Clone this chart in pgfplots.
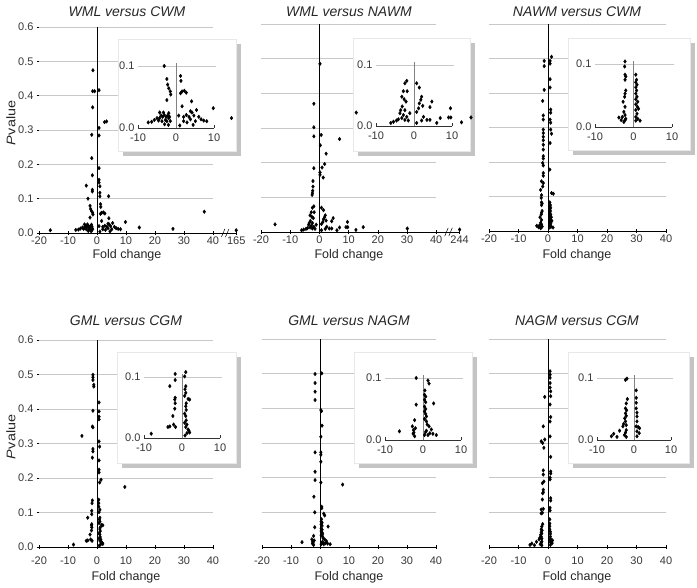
\documentclass[border=0pt]{standalone}
\usepackage{fontspec}
\setmainfont{Liberation Sans}
\usepackage{pgfplots}
\pgfplotsset{compat=1.18}
\usepackage{pgfplotstable}

\definecolor{gridc}{RGB}{200,200,200}
\definecolor{shadowc}{RGB}{196,196,196}
\definecolor{boxc}{RGB}{232,232,232}
\definecolor{labc}{RGB}{55,55,55}
\definecolor{vline}{RGB}{130,130,130}

\pgfplotstableread{
x y
-1.4 0.474
-1.5 0.413
-0.8 0.413
0.7 0.416
-1.5 0.366
0.7 0.306
0.7 0.284
-1.8 0.286
2.6 0.323
3.3 0.325
-1.8 0.218
0.7 0.189
-1.6 0.168
0.7 0.155
0.7 0.147
-3.7 0.138
-1.6 0.126
-1.6 0.121
1.0 0.136
1.0 0.117
1.0 0.107
4.0 0.107
26.2 0.012
37.0 0.062
-16.1 0.008
48 0.008
-3.1 0.100
1.2 0.084
1.3 0.076
-2.4 0.079
-2.2 0.070
-1.9 0.064
-1.5 0.059
-1.4 0.054
-2.4 0.045
1.6 0.059
2.2 0.060
2.7 0.057
1.2 0.056
4.1 0.043
9.8 0.032
14.6 0.016
1.6 0.035
0.7 0.020
2.0 0.018
2.7 0.021
3.4 0.018
3.8 0.027
4.2 0.025
5.4 0.029
4.7 0.020
6.0 0.018
6.6 0.014
7.3 0.012
8.1 0.011
3.8 0.014
2.0 0.011
2.9 0.009
5.1 0.011
-7.3 0.009
-6.4 0.010
-5.7 0.013
-5.0 0.016
-4.3 0.016
-3.9 0.020
-3.5 0.018
-3.1 0.021
-2.6 0.018
-2.2 0.020
-1.9 0.016
-1.7 0.018
-2.8 0.013
-4.6 0.012
-3.7 0.011
-2.4 0.011
-1.5 0.011
-4.3 0.025
-3.3 0.025
-1.9 0.024
-2.0 0.005
-3.0 0.006
1.0 0.004
4.5 0.005
}\dA

\pgfplotstableread{
x y
0.2 0.485
-1.9 0.370
-1.9 0.302
-1.9 0.276
0.6 0.280
0.3 0.250
6.9 0.268
2.3 0.226
1.8 0.196
0.9 0.186
-1.9 0.184
0.2 0.172
0.2 0.165
1.3 0.157
-2.2 0.147
-2.2 0.131
-2.3 0.119
-2.4 0.112
-2.5 0.107
30.1 0.010
48 0.007
-1.9 0.074
-2.4 0.070
-2.8 0.057
-1.8 0.057
-3.2 0.048
-2.6 0.044
-2.1 0.040
-3.1 0.032
-2.4 0.026
-3.7 0.021
-2.8 0.018
-1.9 0.015
-3.2 0.013
-4.1 0.011
-5.4 0.007
-6.1 0.005
-4.6 0.009
-2.4 0.010
-1.5 0.009
-1.1 0.021
-3.5 0.026
0.7 0.070
1.4 0.063
2.0 0.048
1.8 0.043
1.4 0.037
1.2 0.029
0.7 0.023
2.3 0.033
4.7 0.040
4.2 0.031
2.5 0.015
2.0 0.009
3.4 0.010
4.2 0.010
6.0 0.005
6.9 0.013
9.1 0.014
9.7 0.014
9.6 0.029
-15.2 0.022
15.0 0.014
12.5 0.006
0.7 0.005
}\dB

\pgfplotstableread{
x y
1.2 0.505
-1.3 0.493
-1.3 0.478
0.7 0.493
0.7 0.485
0.7 0.440
0.7 0.416
-1.3 0.409
-1.8 0.377
0.9 0.352
0.9 0.343
0.7 0.323
0.9 0.314
0.9 0.294
1.2 0.282
0.7 0.255
-1.6 0.335
-1.6 0.323
-1.6 0.294
-1.6 0.284
-1.6 0.273
-1.6 0.263
-1.6 0.250
-1.6 0.236
-1.6 0.217
-1.6 0.210
-1.8 0.197
-1.6 0.190
-1.6 0.168
-1.6 0.160
-2.2 0.144
-1.6 0.139
-1.8 0.129
-2.5 0.119
0.6 0.178
1.2 0.110
1.8 0.108
-2.2 0.104
-2.3 0.096
-2.2 0.083
-2.0 0.080
-2.2 0.075
-2.0 0.058
-2.2 0.053
-2.3 0.048
-2.7 0.040
-2.2 0.032
-2.5 0.024
-2.2 0.019
-2.9 0.016
-3.8 0.015
-3.2 0.011
-2.2 0.011
-2.0 0.013
-2.5 0.008
0.6 0.083
0.8 0.075
0.6 0.071
0.9 0.067
0.6 0.063
0.8 0.058
0.6 0.053
0.9 0.048
0.6 0.044
1.1 0.040
0.6 0.036
1.0 0.032
1.3 0.029
0.6 0.027
0.9 0.021
0.6 0.016
1.1 0.013
1.7 0.010
0.6 0.010
}\dC

\pgfplotstableread{
x y
-1.4 0.499
-1.4 0.492
-1.4 0.484
-1.1 0.470
-1.1 0.465
0.7 0.419
0.7 0.393
0.7 0.378
0.7 0.370
-1.4 0.395
-1.4 0.347
-1.6 0.349
-5.2 0.322
0.7 0.306
0.9 0.291
-1.4 0.284
-1.4 0.277
-1.6 0.259
0.7 0.251
0.7 0.224
0.7 0.216
1.4 0.195
0.9 0.187
9.6 0.174
-1.6 0.135
-1.7 0.127
0.6 0.137
0.6 0.127
0.6 0.117
-1.8 0.105
-1.8 0.095
-3.2 0.085
-1.8 0.066
-1.9 0.063
-1.8 0.057
-1.9 0.048
-2.4 0.036
-2.2 0.022
-3.2 0.019
-3.7 0.018
-1.7 0.018
-8.1 0.007
1.0 0.108
0.7 0.101
1.0 0.085
0.8 0.080
1.0 0.074
0.7 0.069
1.6 0.064
2.0 0.063
1.1 0.057
1.0 0.052
1.1 0.046
0.7 0.040
1.0 0.036
1.1 0.029
0.7 0.025
1.3 0.022
1.0 0.018
1.6 0.014
2.0 0.009
1.3 0.008
1.8 0.012
0.8 0.004
}\dD

\pgfplotstableread{
x y
-1.7 0.499
0.6 0.501
-1.7 0.473
-1.7 0.448
-1.7 0.424
0.3 0.395
0.5 0.392
0.7 0.350
0.3 0.318
-1.7 0.273
0.3 0.273
0.3 0.266
0.3 0.246
-1.7 0.217
-1.7 0.193
0.3 0.186
7.8 0.180
-2.1 0.145
0.6 0.116
0.6 0.112
-1.8 0.100
-1.8 0.057
-2.2 0.032
-2.8 0.022
-2.5 0.016
-2.6 0.010
-2.2 0.006
-6.2 0.014
-2.4 0.012
-2.0 0.019
1.3 0.096
1.6 0.091
2.8 0.059
0.4 0.073
0.7 0.070
0.4 0.065
0.7 0.061
0.4 0.054
0.7 0.050
0.4 0.046
0.7 0.042
0.9 0.038
0.4 0.034
0.9 0.030
1.1 0.025
1.6 0.022
2.2 0.017
0.9 0.015
1.8 0.011
2.6 0.010
3.5 0.008
1.3 0.008
0.4 0.008
0.7 0.013
0.5 0.080
}\dE

\pgfplotstableread{
x y
0.7 0.507
0.7 0.497
0.7 0.488
0.7 0.473
0.7 0.460
0.9 0.449
0.9 0.435
0.7 0.411
0.9 0.375
0.7 0.362
0.7 0.319
0.9 0.260
0.9 0.218
0.9 0.212
0.7 0.200
0.7 0.195
0.9 0.141
0.9 0.134
0.7 0.113
0.7 0.105
-1.1 0.433
-1.6 0.348
-1.1 0.310
-2.3 0.305
-1.8 0.300
-1.4 0.286
-1.6 0.221
-1.6 0.209
-1.4 0.189
-1.9 0.184
-1.6 0.165
-1.6 0.158
-1.8 0.155
-1.9 0.137
-2.3 0.108
-1.6 0.110
-2.3 0.097
-1.9 0.099
-1.8 0.066
-2.1 0.059
-2.3 0.051
-2.0 0.048
-2.3 0.043
-2.1 0.039
-2.5 0.035
-2.3 0.030
-2.8 0.026
-2.1 0.024
-3.0 0.022
-3.9 0.015
-5.5 0.010
-6.1 0.006
-4.6 0.005
-2.1 0.016
-2.3 0.012
-2.1 0.005
-2.6 0.008
0.6 0.080
0.6 0.068
0.6 0.060
0.6 0.051
0.8 0.044
0.8 0.038
0.8 0.030
0.6 0.022
1.1 0.021
1.5 0.019
0.8 0.014
1.4 0.011
0.8 0.006
}\dF

\pgfplotsset{
  mainax/.style={scale only axis, anchor=south west, ymin=0, ymax=0.6, xmin=-20,
    axis x line*=bottom, axis y line*=left, y axis line style={draw=none},
    x axis line style={black, line width=0.6pt},
    xtick={-20,-10,0,10,20,30,40}, xticklabels={-20,-10,0,10,20,30,40},
    ytick={0,0.1,0.2,0.3,0.4,0.5,0.6}, yticklabels={0.0,0.1,0.2,0.3,0.4,0.5,0.6},
    tick align=center, major tick length=4pt, tick style={black, line width=0.5pt},
    tick label style={font=\fontsize{11}{13}\selectfont, text=labc},
    clip=false},
  noy/.style={ytick=\empty},
  inax/.style={scale only axis, anchor=south west, xmin=-10, xmax=10, ymin=0, ymax=0.1,
    axis x line*=bottom, axis y line*=left, y axis line style={draw=none},
    x axis line style={black!80, line width=0.6pt},
    xtick={-10,0,10}, xticklabels={-10,0,10}, ytick={0,0.1}, yticklabels={0.0,0.1},
    tick align=inside, major tick length=3pt, ytick style={draw=none},
    xtick style={black!80, line width=0.5pt},
    tick label style={font=\fontsize{11}{13}\selectfont, text=labc},
    xticklabel style={yshift=-2.5pt},
    clip=false, restrict x to domain=-15.5:15.5},
  pts/.style={only marks, mark=diamond*, mark size=1.8pt, black}
}

\newcommand{\maingrid}{%
  \pgfplotsinvokeforeach{0.1,0.2,0.3,0.4,0.5,0.6}{\draw[gridc, line width=0.6pt] (axis cs:-20,##1) -- (axis cs:40,##1);}%
  \draw[black, line width=0.6pt] (axis cs:0,0) -- (axis cs:0,0.6);}
\newcommand{\ingrid}{%
  \draw[gridc, line width=0.6pt] (axis cs:-10,0.1) -- (axis cs:10.5,0.1);
  \draw[vline, line width=0.7pt] (axis cs:0,0) -- (axis cs:0,0.105);}
\newcommand{\brk}{%
  \draw[black, line width=0.5pt] (axis cs:42.9,-0.012) -- (axis cs:44.1,0.012);
  \draw[black, line width=0.5pt] (axis cs:44.3,-0.012) -- (axis cs:45.5,0.012);}
\newcommand{\ibox}[4]{%
  \fill[shadowc] (#1pt+5pt,-#2pt-5pt) rectangle (#3pt+5pt,-#4pt-5pt);
  \filldraw[fill=white, draw=boxc, line width=0.5pt] (#1pt,-#2pt) rectangle (#3pt,-#4pt);}

\begin{document}
\begin{tikzpicture}
\path[use as bounding box] (0pt,0pt) rectangle (697pt,-588pt);

% ---- main panels ----
\begin{axis}[mainax, at={(39pt,-233pt)}, width=197.2pt, height=206pt, xmax=48,
  xtick={-20,-10,0,10,20,30,40,48}, xticklabels={-20,-10,0,10,20,30,40,165},
  xticklabel style={yshift=2pt}]
\maingrid \brk
\addplot[pts] table {\dA};
\end{axis}

\begin{axis}[mainax, noy, at={(261pt,-232pt)}, width=198.6pt, height=208pt, xmax=48,
  xtick={-20,-10,0,10,20,30,40,48}, xticklabels={-20,-10,0,10,20,30,40,244},
  xticklabel style={yshift=2pt}]
\maingrid \brk
\addplot[pts] table {\dB};
\end{axis}

\begin{axis}[mainax, noy, at={(489pt,-231pt)}, width=177pt, height=207pt, xmax=40,
  xticklabel style={yshift=2pt}]
\maingrid
\addplot[pts] table {\dC};
\end{axis}

\begin{axis}[mainax, at={(39pt,-547pt)}, width=174pt, height=207pt, xmax=40,
  xticklabel style={yshift=-4.5pt}]
\maingrid
\addplot[pts] table {\dD};
\end{axis}

\begin{axis}[mainax, noy, at={(262pt,-547pt)}, width=174pt, height=208pt, xmax=40,
  xticklabel style={yshift=-4.5pt}]
\maingrid
\addplot[pts] table {\dE};
\end{axis}

\begin{axis}[mainax, noy, at={(489pt,-547pt)}, width=177pt, height=208pt, xmax=40,
  xticklabel style={yshift=-4.5pt}]
\maingrid
\addplot[pts] table {\dF};
\end{axis}

% ---- inset boxes ----
\ibox{118}{39}{236}{151}
\ibox{353}{38}{470}{151}
\ibox{568}{38}{690}{150}
\ibox{117}{352}{236}{463}
\ibox{354}{352}{472}{463}
\ibox{568}{352}{689}{463}

% ---- insets ----
\begin{axis}[inax, at={(138pt,-128pt)}, width=76pt, height=62pt, restrict y to domain=0:0.102]
\ingrid
\addplot[pts] table {\dA};
\end{axis}
\begin{axis}[inax, at={(376pt,-126pt)}, width=76pt, height=61pt, restrict y to domain=0:0.102]
\ingrid
\addplot[pts] table {\dB};
\end{axis}
\begin{axis}[inax, at={(595pt,-127pt)}, width=77pt, height=63pt, restrict y to domain=0:0.106]
\ingrid
\addplot[pts] table {\dC};
\end{axis}
\begin{axis}[inax, at={(144pt,-438pt)}, width=76pt, height=61pt, restrict y to domain=0:0.111]
\ingrid
\addplot[pts] table {\dD};
\end{axis}
\begin{axis}[inax, at={(385pt,-440pt)}, width=76pt, height=62pt, restrict y to domain=0:0.102]
\ingrid
\addplot[pts] table {\dE};
\end{axis}
\begin{axis}[inax, at={(597pt,-440pt)}, width=74pt, height=62pt, restrict y to domain=0:0.102]
\ingrid
\addplot[pts] table {\dF};
\end{axis}

% ---- titles and labels ----
\tikzset{ttl/.style={font=\fontsize{14}{16}\selectfont\itshape, text=black!85},
         lab/.style={font=\fontsize{12.5}{14}\selectfont, text=black!85}}
\node[ttl] at (127pt,-12pt) {WML versus CWM};
\node[ttl] at (349pt,-12pt) {WML versus NAWM};
\node[ttl] at (577pt,-12pt) {NAWM versus CWM};
\node[ttl] at (126pt,-321pt) {GML versus CGM};
\node[ttl] at (349pt,-321pt) {GML versus NAGM};
\node[ttl] at (577pt,-321pt) {NAGM versus CGM};
\node[lab] at (127pt,-255pt) {Fold change};
\node[lab] at (349pt,-255pt) {Fold change};
\node[lab] at (577pt,-255pt) {Fold change};
\node[lab] at (126pt,-577pt) {Fold change};
\node[lab] at (349pt,-577pt) {Fold change};
\node[lab] at (577pt,-577pt) {Fold change};
\node[lab, rotate=90] at (11pt,-123pt) {\scalebox{1.15}[1]{\textit{P}\kern0.5pt value}};
\node[lab, rotate=90] at (11pt,-437pt) {\scalebox{1.15}[1]{\textit{P}\kern0.5pt value}};
\end{tikzpicture}
\end{document}
